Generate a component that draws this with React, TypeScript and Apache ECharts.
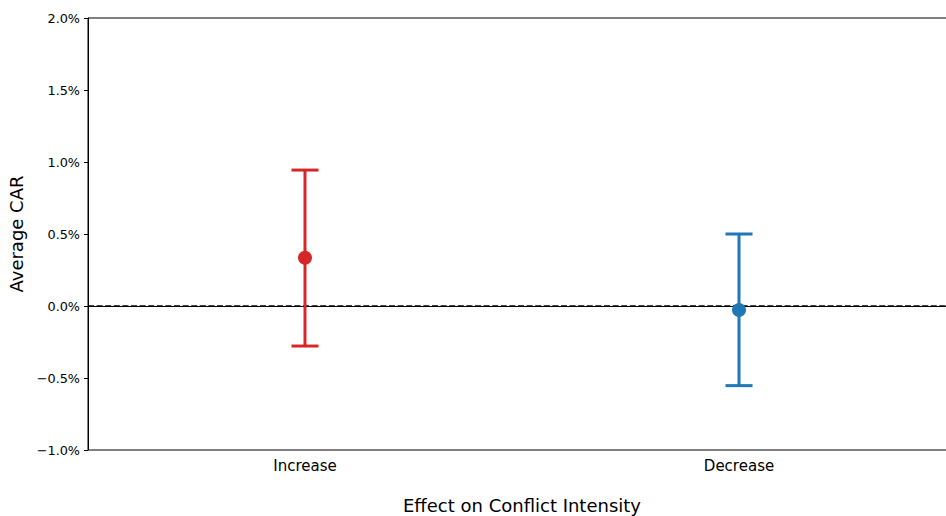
import React, { useEffect, useRef } from "react";
import * as echarts from "echarts";

const categories = ["Increase", "Decrease"];
const means = [0.335, -0.028];
const lowers = [-0.278, -0.553];
const uppers = [0.944, 0.5];
const colors = ["#d62728", "#1f77b4"];
const yTicks = [-1.0, -0.5, 0.0, 0.5, 1.0, 1.5, 2.0];
const refLine = 0;

const FONT = "DejaVu Sans";

export default function App() {
  const ref = useRef<HTMLDivElement>(null);
  useEffect(() => {
    if (!ref.current) return;
    const chart = echarts.init(ref.current, null, { renderer: "svg" });
    const errData = categories.map((c, i) => [i, lowers[i], uppers[i]]);
    chart.setOption({
      animation: false,
      grid: {
        left: 88,
        top: 18,
        width: 868,
        height: 432,
        outerBoundsMode: "none",
        containLabel: false,
        show: true,
        borderColor: "#000",
        borderWidth: 1,
        backgroundColor: "transparent",
      },
      xAxis: {
        type: "category",
        data: categories,
        boundaryGap: true,
        name: "Effect on Conflict Intensity",
        nameLocation: "middle",
        nameGap: 46,
        nameTextStyle: { fontFamily: FONT, fontSize: 18, color: "#000" },
        axisLine: { lineStyle: { color: "#000", width: 1 } },
        axisTick: { alignWithLabel: true, length: 4, lineStyle: { color: "#000" } },
        axisLabel: { fontFamily: FONT, fontSize: 15, color: "#000", margin: 8 },
        splitLine: { show: false },
      },
      yAxis: {
        type: "value",
        min: yTicks[0],
        max: yTicks[yTicks.length - 1],
        interval: 0.5,
        name: "Average CAR",
        nameLocation: "middle",
        nameGap: 60,
        nameTextStyle: { fontFamily: FONT, fontSize: 18, color: "#000" },
        axisLine: { show: true, lineStyle: { color: "#000", width: 1 } },
        axisTick: { show: true, length: 4, lineStyle: { color: "#000" } },
        axisLabel: {
          fontFamily: FONT,
          fontSize: 12.8,
          color: "#000",
          margin: 8,
          formatter: (v: number) => (v < 0 ? "\u2212" + Math.abs(v).toFixed(1) : v.toFixed(1)) + "%",
        },
        splitLine: { show: false },
      },
      series: [
        {
          type: "custom",
          data: [[0, refLine]],
          z: 1,
          silent: true,
          renderItem: (params: any, api: any) => {
            const cs = params.coordSys;
            const p = api.coord([0, api.value(1)]);
            return {
              type: "line",
              shape: { x1: cs.x, y1: p[1], x2: cs.x + cs.width, y2: p[1] },
              style: { stroke: "#000", lineWidth: 1.6, lineDash: [6, 2.6], fill: "none" },
            };
          },
        },
        {
          type: "custom",
          data: errData,
          z: 2,
          renderItem: (params: any, api: any) => {
            const i = api.value(0);
            const lo = api.coord([i, api.value(1)]);
            const hi = api.coord([i, api.value(2)]);
            const cw = 13.5;
            const color = colors[params.dataIndex];
            const style = { stroke: color, lineWidth: 3, fill: "none" };
            return {
              type: "group",
              children: [
                { type: "line", shape: { x1: lo[0], y1: lo[1], x2: hi[0], y2: hi[1] }, style },
                { type: "line", shape: { x1: lo[0] - cw, y1: lo[1], x2: lo[0] + cw, y2: lo[1] }, style },
                { type: "line", shape: { x1: hi[0] - cw, y1: hi[1], x2: hi[0] + cw, y2: hi[1] }, style },
              ],
            };
          },
        },
        {
          type: "scatter",
          z: 3,
          symbol: "circle",
          symbolSize: 14,
          itemStyle: { opacity: 1 },
          data: means.map((m, i) => ({ value: [i, m], itemStyle: { color: colors[i], opacity: 1 } })),
        },
      ],
    });
    return () => chart.dispose();
  }, []);
  return <div ref={ref} style={{ width: 946, height: 516, position: "absolute", left: 0, top: 0 }} />;
}
